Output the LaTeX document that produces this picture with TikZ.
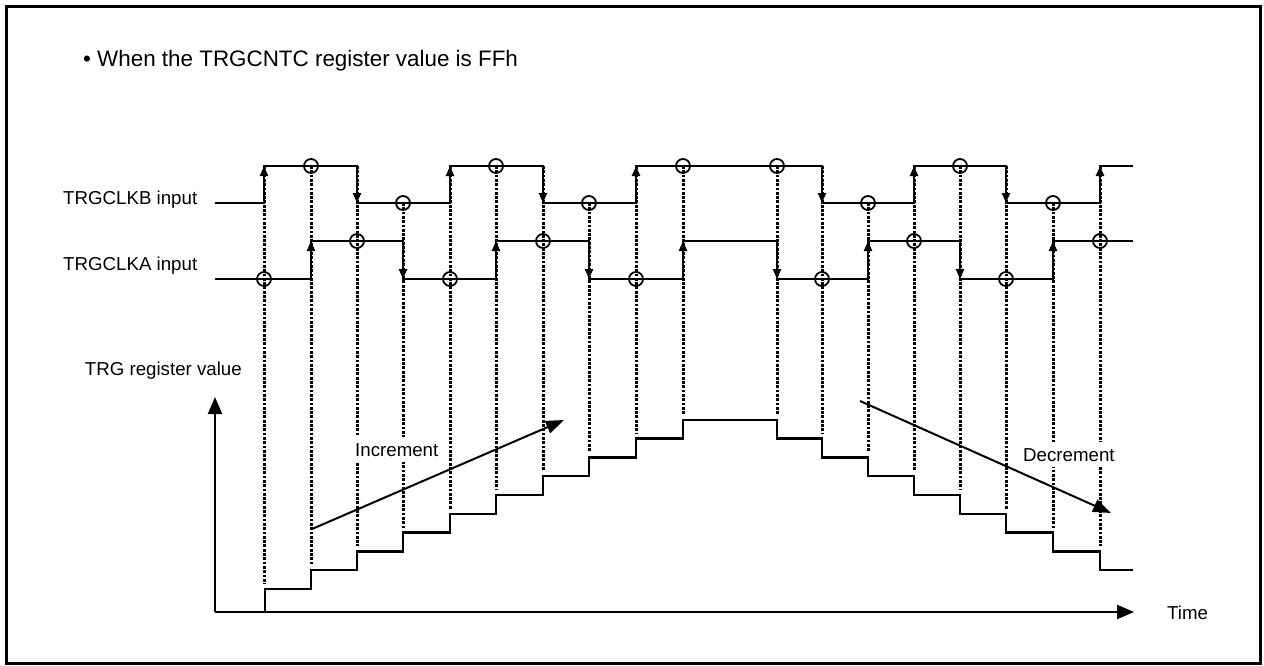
\documentclass[tikz,border=0pt]{standalone}
\usepackage{fontspec}
\setmainfont{Liberation Sans}
\usetikzlibrary{arrows.meta}
\begin{document}
\begin{tikzpicture}[x=1pt,y=-1pt,
  sig/.style={line width=2.3pt},
  edgearrow/.style={line width=2.3pt,-{Triangle[length=10pt,width=8pt]}},
  dotline/.style={line width=3pt,dash pattern=on 2.8pt off 1.5pt},
  mark circle/.style={circle,draw,line width=1.8pt,minimum size=14pt,inner sep=0pt},
  axis/.style={line width=2.3pt,-{Triangle[length=17pt,width=14pt]}},
  trend/.style={line width=2pt,-{Triangle[length=18pt,width=13pt]}},
  lbl/.style={font=\fontsize{18.7pt}{22pt}\selectfont,inner sep=0pt},
  boxlbl/.style={font=\fontsize{18.7pt}{22pt}\selectfont,fill=white,inner xsep=2pt,inner ysep=6pt}]
\useasboundingbox (0,0) rectangle (1264,665);
\draw[line width=3pt] (6.5,6.5) rectangle (1260.5,663);

% title and labels
\node[lbl,anchor=base west] (title) at (83,66) {\fontsize{22.4pt}{26pt}\selectfont • When the TRGCNTC register value is FFh};
\node[lbl,anchor=base west] (lblB) at (63,204.5) {TRGCLKB input};
\node[lbl,anchor=base west] (lblA) at (63,270.5) {TRGCLKA input};
\node[lbl,anchor=base east] (lblR) at (242,375) {TRG register value};
\node[lbl,anchor=base west] (lblT) at (1167,619.5) {Time};

% dotted event lines
\foreach \x/\t/\e in {264/166/584,311/166/565,357/166/546,403/203/528,450/166/509,
  496/166/490,543/166/471,589/203/452,636/166/434,683/166/415,
  777/166/415,822/166/434,868/203/452,914/166/471,960/166/490,
  1006/166/509,1053/203/528,1100/166/546}
  \draw[dotline] (\x,\t) -- (\x,\e);

% text over dotted lines
\node[boxlbl,anchor=base west] (inc) at (353,456) {Increment};
\node[boxlbl,anchor=base west] (dec) at (1021,461) {Decrement};

% signals
\draw[sig] (215,203) -- (264,203) -- (264,166) -- (357,166) -- (357,203) -- (450,203)
  -- (450,166) -- (543,166) -- (543,203) -- (636,203) -- (636,166) -- (822,166)
  -- (822,203) -- (914,203) -- (914,166) -- (1006,166) -- (1006,203) -- (1100,203)
  -- (1100,166) -- (1133,166);
\draw[sig] (215,279) -- (311,279) -- (311,241) -- (403,241) -- (403,279) -- (496,279)
  -- (496,241) -- (589,241) -- (589,279) -- (683,279) -- (683,241) -- (777,241)
  -- (777,279) -- (868,279) -- (868,241) -- (960,241) -- (960,279) -- (1053,279)
  -- (1053,241) -- (1133,241);

% edge arrows
\foreach \x/\a/\b in {264/203/166,311/279/241,357/166/203,403/241/279,450/203/166,
  496/279/241,543/166/203,589/241/279,636/203/166,683/279/241,
  777/241/279,822/166/203,868/279/241,914/203/166,960/241/279,
  1006/166/203,1053/279/241,1100/203/166}
  \draw[edgearrow] (\x,\a) -- (\x,\b);

% sampling circles
\foreach \x/\y [count=\i] in {264/279,311/166,357/241,403/203,450/279,496/166,543/241,
  589/203,636/279,683/166,777/166,822/279,868/203,914/241,960/166,1006/279,
  1053/203,1100/241}
  \node[mark circle] (c\i) at (\x,\y) {};

% staircase
\draw[sig] (265,612) -- (265,589) -- (311,589) -- (311,570.2) -- (357,570.2) -- (357,551.4)
  -- (403,551.4) -- (403,532.6) -- (450,532.6) -- (450,513.8) -- (496,513.8) -- (496,495)
  -- (543,495) -- (543,476.2) -- (589,476.2) -- (589,457.4) -- (636,457.4) -- (636,438.6)
  -- (683,438.6) -- (683,419.8) -- (777,419.8) -- (777,438.6) -- (822,438.6) -- (822,457.4)
  -- (868,457.4) -- (868,476.2) -- (914,476.2) -- (914,495) -- (960,495) -- (960,513.8)
  -- (1006,513.8) -- (1006,532.6) -- (1053,532.6) -- (1053,551.4) -- (1100,551.4)
  -- (1100,570.2) -- (1133,570.2);

% axes
\coordinate (origin) at (215,612);
\coordinate (ytip) at (215,397);
\coordinate (xtip) at (1134,612);
\draw[axis] (origin) -- (ytip);
\draw[axis] (origin) -- (xtip);

% trend arrows
\coordinate (incS) at (312,529);
\coordinate (incE) at (564,420);
\coordinate (decS) at (860,401);
\coordinate (decE) at (1111,513);
\draw[trend] (incS) -- (incE);
\draw[trend] (decS) -- (decE);
\end{tikzpicture}
\end{document}
